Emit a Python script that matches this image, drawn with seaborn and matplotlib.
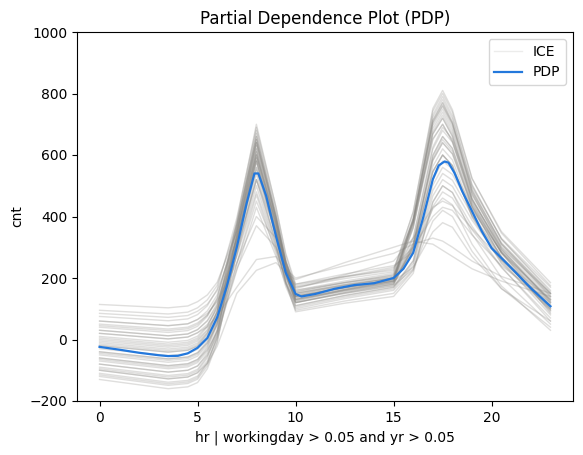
import numpy as np
import pandas as pd
import matplotlib
matplotlib.use("Agg")
import matplotlib.pyplot as plt
from matplotlib.lines import Line2D
import seaborn as sns

# ---- data ----
pdp_hr = [0, 1, 2, 3, 3.5, 4, 4.5, 5, 5.5, 6, 6.5, 7, 7.5, 7.9, 8.1, 8.5, 9, 9.5, 10,
          10.3, 11, 12, 13, 14, 15, 15.5, 16, 16.5, 17, 17.3, 17.6, 17.8, 18.1, 18.5,
          19, 19.5, 20, 21, 22, 23]
pdp_val = [-24, -33, -43, -51, -54, -53, -45, -27, 5, 72, 175, 300, 442, 540, 540, 467,
           336, 217, 148, 140, 148, 165, 177, 183, 200, 230, 282, 395, 521, 566, 579,
           575, 542, 482, 417, 352, 297, 233, 167, 108]

ice_hr = [0, 3.5, 4.5, 5, 5.5, 6, 7, 8, 9, 9.5, 10, 12.5, 15, 16, 17, 17.5, 18, 19, 20.5, 23]
ice_curves = [
    [114, 103, 109, 123, 145, 186, 351, 600, 381, 254, 170, 203, 230, 385, 653, 700, 645, 453, 299, 150],
    [95, 83, 89, 103, 129, 176, 376, 650, 400, 256, 160, 190, 215, 395, 706, 760, 701, 495, 329, 170],
    [85, 72, 78, 92, 115, 159, 324, 560, 351, 230, 150, 177, 200, 314, 583, 640, 604, 436, 283, 130],
    [75, 61, 67, 81, 110, 164, 395, 690, 430, 280, 180, 205, 225, 415, 743, 800, 739, 523, 351, 185],
    [60, 45, 51, 65, 93, 145, 354, 620, 375, 234, 140, 170, 195, 368, 668, 720, 660, 450, 282, 120],
    [50, 34, 40, 54, 80, 127, 297, 520, 321, 206, 130, 158, 180, 289, 545, 600, 566, 404, 257, 110],
    [40, 23, 29, 43, 75, 133, 373, 660, 400, 250, 150, 180, 205, 395, 723, 780, 718, 501, 327, 160],
    [30, 12, 18, 32, 62, 117, 327, 580, 348, 214, 125, 161, 190, 312, 599, 660, 622, 442, 279, 115],
    [20, 2, 8, 22, 49, 99, 271, 480, 296, 190, 120, 150, 175, 256, 502, 560, 537, 422, 284, 100],
    [10, -9, -3, 11, 45, 107, 357, 640, 388, 242, 145, 175, 200, 378, 686, 740, 680, 470, 302, 140],
    [0, -20, -14, 0, 32, 90, 306, 550, 338, 216, 135, 162, 185, 298, 563, 620, 584, 414, 260, 105],
    [-10, -31, -25, -11, 23, 87, 332, 600, 373, 242, 155, 185, 210, 332, 619, 680, 641, 458, 292, 125],
    [-20, -41, -35, -21, 18, 89, 386, 700, 430, 274, 170, 198, 220, 415, 751, 810, 747, 524, 346, 175],
    [-30, -52, -46, -32, 1, 61, 274, 500, 301, 186, 110, 143, 170, 248, 485, 540, 518, 405, 270, 90],
    [-40, -63, -57, -43, -5, 65, 339, 620, 375, 234, 140, 170, 195, 362, 650, 700, 643, 444, 284, 130],
    [-50, -74, -68, -54, -17, 51, 304, 560, 338, 210, 125, 158, 185, 293, 546, 600, 565, 400, 250, 100],
    [-60, -85, -79, -65, -23, 54, 364, 670, 405, 252, 150, 178, 200, 385, 704, 760, 699, 486, 315, 150],
    [-70, -95, -89, -75, -38, 31, 279, 520, 308, 186, 105, 138, 165, 240, 467, 520, 498, 388, 256, 80],
    [-80, -106, -100, -86, -45, 30, 317, 590, 355, 220, 130, 163, 190, 307, 582, 640, 603, 428, 269, 110],
    [-90, -117, -111, -97, -54, 27, 342, 640, 395, 254, 160, 185, 205, 375, 669, 720, 662, 457, 293, 135],
    [-100, -128, -122, -108, -70, 2, 248, 470, 281, 172, 100, 133, 160, 227, 432, 480, 460, 357, 234, 70],
    [-110, -139, -133, -119, -75, 8, 323, 610, 360, 216, 120, 153, 180, 305, 598, 660, 620, 434, 265, 95],
    [-120, -149, -143, -129, -86, -7, 283, 540, 313, 182, 95, 125, 150, 224, 448, 500, 478, 368, 236, 60],
    [-130, -160, -154, -140, -95, -11, 303, 580, 340, 202, 110, 143, 170, 256, 519, 580, 555, 432, 283, 85],
    [-60, -85, -79, -65, -34, 24, 230, 370, 300, 225, 175, 205, 235, 300, 400, 430, 420, 340, 240, 120],
    [20, 2, 8, 22, 41, 77, 170, 260, 270, 228, 200, 240, 280, 310, 330, 320, 300, 255, 205, 150],
    [-100, -128, -122, -108, -78, -22, 150, 225, 250, 217, 195, 250, 300, 320, 310, 290, 270, 230, 190, 140],
    [60, 45, 51, 65, 85, 123, 250, 400, 330, 231, 165, 210, 255, 330, 430, 450, 435, 360, 260, 130],
    [-40, -63, -57, -43, -11, 48, 245, 450, 290, 200, 140, 168, 190, 235, 350, 380, 365, 270, 165, 60],
    [-80, -106, -100, -86, -51, 14, 225, 430, 270, 180, 120, 150, 175, 230, 385, 420, 400, 287, 166, 40],
    [30, 12, 18, 32, 60, 111, 290, 520, 350, 248, 180, 213, 240, 285, 425, 460, 438, 310, 174, 30],
    [-20, -41, -35, -21, 13, 77, 318, 580, 330, 186, 90, 118, 140, 215, 446, 500, 478, 343, 201, 50],
    [-15, -36, -30, -16, 21, 89, 364, 660, 395, 242, 140, 170, 195, 385, 713, 770, 707, 487, 310, 140],
    [-65, -90, -84, -70, -29, 46, 340, 630, 378, 232, 135, 168, 195, 391, 731, 790, 727, 504, 326, 155],
    [5, -15, -9, 5, 41, 107, 378, 680, 412, 258, 155, 185, 210, 388, 696, 750, 690, 480, 312, 150],
    [-95, -122, -116, -102, -60, 19, 319, 600, 360, 222, 130, 160, 185, 365, 676, 730, 670, 458, 288, 125],
    [45, 29, 35, 49, 79, 135, 362, 640, 388, 242, 145, 175, 200, 327, 626, 690, 652, 472, 309, 145],
    [-45, -68, -62, -48, -11, 58, 321, 590, 350, 212, 120, 153, 180, 302, 589, 650, 612, 430, 265, 100],
    [-115, -144, -138, -124, -78, 8, 344, 650, 390, 240, 140, 168, 190, 381, 712, 770, 705, 478, 296, 120],
    [-5, -25, -19, -5, 29, 92, 339, 610, 365, 224, 130, 163, 190, 297, 547, 600, 565, 398, 247, 95],
]

title = "Partial Dependence Plot (PDP)"
xlabel = "hr | workingday > 0.05 and yr > 0.05"
ylabel = "cnt"

# ---- build tables ----
rows = []
for i, curve in enumerate(ice_curves):
    for h, v in zip(ice_hr, curve):
        rows.append((i, h, v))
ice_df = pd.DataFrame(rows, columns=["unit", "hr", "cnt"])
pdp_df = pd.DataFrame({"hr": pdp_hr, "cnt": pdp_val})

ice_color = "#84827d"
pdp_color = "#2378dc"
ice_alpha = 0.26

fig = plt.figure(figsize=(5.83, 4.55), dpi=100)
ax = fig.add_axes([77 / 583, 1 - 401 / 455, 496 / 583, 369 / 455])

sns.lineplot(data=ice_df, x="hr", y="cnt", units="unit", estimator=None,
             color=ice_color, alpha=ice_alpha, lw=1, ax=ax, legend=False)
sns.lineplot(data=pdp_df, x="hr", y="cnt", color=pdp_color, lw=1.6, ax=ax,
             legend=False)

ax.set_ylim(-200, 1000)
ax.set_xlim(-1.15, 24.15)
ax.set_xticks([0, 5, 10, 15, 20])
ax.set_yticks([-200, 0, 200, 400, 600, 800, 1000])
ax.set_title(title, fontsize=12)
ax.set_xlabel(xlabel, fontsize=10)
ax.set_ylabel(ylabel, fontsize=10)

handles = [Line2D([], [], color=ice_color, alpha=0.15, lw=1),
           Line2D([], [], color=pdp_color, lw=1.6)]
ax.legend(handles, ["ICE", "PDP"], loc="upper right")

fig.savefig("out.png", dpi=100)
